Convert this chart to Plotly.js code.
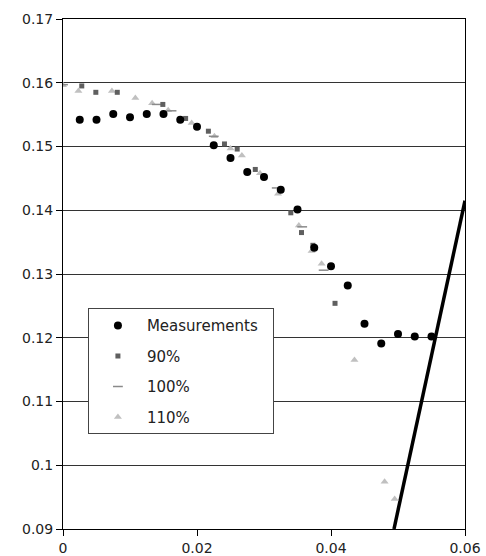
<!DOCTYPE html>
<html>
<head>
<meta charset="utf-8">
<script src="https://cdn.plot.ly/plotly-3.0.1.min.js"></script>
<style>html,body{margin:0;padding:0;background:#fff;}#chart{width:486px;height:556px;}</style>
</head>
<body>
<div id="chart"></div>
<script>
// Measurements
var measX = [0.0025,0.005,0.0075,0.01,0.0125,0.015,0.0175,0.02,0.0225,0.025,0.0275,0.03,0.0325,0.035,0.0375,0.04,0.0425,0.045,0.0475,0.05,0.0525,0.055];
var measY = [0.1542,0.1542,0.1551,0.1546,0.1551,0.1551,0.1542,0.1531,0.1502,0.1482,0.1460,0.1452,0.1432,0.1401,0.1341,0.1312,0.1282,0.1222,0.1191,0.1206,0.1202,0.1202];
// 90%
var s90X = [0.0028,0.0049,0.0081,0.0149,0.0183,0.0217,0.0241,0.0260,0.0287,0.0340,0.0356,0.0373,0.0406];
var s90Y = [0.1595,0.1585,0.1585,0.1566,0.1544,0.1524,0.1504,0.1496,0.1464,0.1396,0.1365,0.1345,0.1254];
// 100%
var s100X = [0.0000,0.0140,0.0162,0.0225,0.0319,0.0357,0.0389];
var s100Y = [0.1597,0.1566,0.1556,0.1516,0.1435,0.1374,0.1306];
// 110%
var s110X = [0.0000,0.0023,0.0073,0.0108,0.0133,0.0157,0.0192,0.0226,0.0250,0.0267,0.0294,0.0321,0.0352,0.0371,0.0386,0.0435,0.0480,0.0495];
var s110Y = [0.1596,0.1587,0.1587,0.1576,0.1568,0.1557,0.1537,0.1516,0.1497,0.1486,0.1458,0.1426,0.1376,0.1336,0.1316,0.1165,0.0974,0.0947];
// straight line
var lineX = [0.0494,0.0600];
var lineY = [0.0900,0.1415];
var seriesNames = ['Measurements','90%','100%','110%'];
var xTicks = [0,0.02,0.04,0.06];
var xTickText = ['0','0.02','0.04','0.06'];
var yTicks = [0.09,0.10,0.11,0.12,0.13,0.14,0.15,0.16,0.17];
var yTickText = ['0.09','0.1','0.11','0.12','0.13','0.14','0.15','0.16','0.17'];

var pad = '\u00a0\u00a0';
var traces = [
  {x: lineX, y: lineY, mode: 'lines', line: {color: '#000', width: 3.5}, showlegend: false, hoverinfo: 'skip'},
  {x: s110X, y: s110Y, mode: 'markers', name: seriesNames[3], legendgroup: 'd', legendrank: 4,
   marker: {symbol: 'triangle-up', size: 7, color: '#c0c0c0'}},
  {x: s100X, y: s100Y, mode: 'markers', name: seriesNames[2], legendgroup: 'c', legendrank: 3,
   marker: {symbol: 'line-ew', size: 7, color: '#8a8a8a', line: {color: '#8a8a8a', width: 1.5}}},
  {x: s90X, y: s90Y, mode: 'markers', name: seriesNames[1], legendgroup: 'b', legendrank: 2,
   marker: {symbol: 'square', size: 5, color: '#5f5f5f'}},
  {x: measX, y: measY, mode: 'markers', name: seriesNames[0] + pad, legendgroup: 'a', legendrank: 1,
   marker: {symbol: 'circle', size: 8, color: '#000'}}
];

var layout = {
  width: 486, height: 556,
  margin: {l: 63, r: 21, t: 19, b: 27, pad: 0},
  paper_bgcolor: '#fff', plot_bgcolor: '#fff',
  font: {family: 'DejaVu Sans, Verdana, sans-serif', size: 13, color: '#222'},
  showlegend: true,
  legend: {
    x: 0.062, y: 0.433, xanchor: 'left', yanchor: 'top',
    bgcolor: '#fff', bordercolor: '#444', borderwidth: 1,
    font: {size: 15, color: '#222'},
    itemwidth: 48,
    traceorder: 'grouped', tracegroupgap: 8
  },
  xaxis: {
    range: [0, 0.06], tickvals: xTicks, ticktext: xTickText,
    showgrid: false, zeroline: false,
    showline: true, linecolor: '#000', linewidth: 1, mirror: true,
    ticks: 'outside', ticklen: 6, tickcolor: '#000', tickwidth: 1,
    tickfont: {size: 14}
  },
  yaxis: {
    range: [0.09, 0.17], tickvals: yTicks, ticktext: yTickText,
    showgrid: true, gridcolor: '#333', gridwidth: 1, zeroline: false,
    showline: true, linecolor: '#000', linewidth: 1, mirror: true,
    ticks: 'outside', ticklen: 6, tickcolor: '#000', tickwidth: 1,
    tickfont: {size: 14}
  }
};

Plotly.newPlot('chart', traces, layout, {displayModeBar: false, staticPlot: true});
</script>
</body>
</html>
